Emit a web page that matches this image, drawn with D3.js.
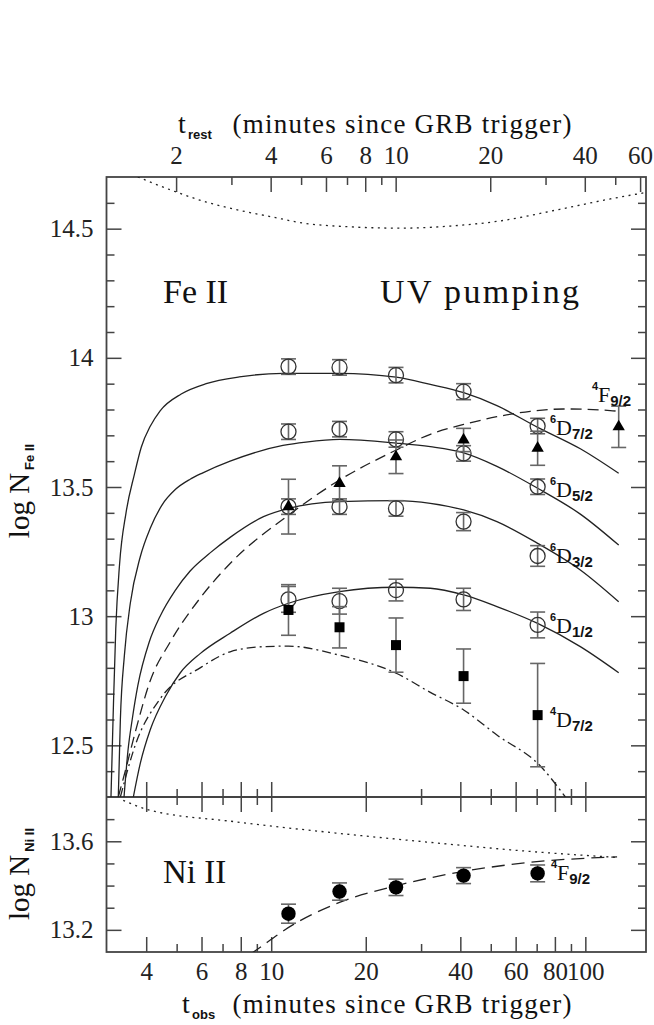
<!DOCTYPE html>
<html><head><meta charset="utf-8">
<script src="https://cdn.jsdelivr.net/npm/d3@7/dist/d3.min.js"></script>
<style>
body{margin:0;background:#fff}
svg{display:block}
.serif{font-family:"Liberation Serif","Times New Roman",serif}
.sans{font-family:"Liberation Sans",Arial,sans-serif;font-weight:bold}
</style></head>
<body><svg id="c" width="654" height="1025"></svg>
<script>
// ---------------- data ----------------
const onePlusZ = 2.49;
const tObs = [11.35, 16.5, 24.96, 40.96, 70.49];
const tObs4F = [11.35, 16.5, 24.96, 40.96, 70.49, 127.7];

const fe6D72 = [13.966, 13.963, 13.933, 13.869, 13.736];
const fe6D72Err = [0.03, 0.03, 0.03, 0.031, 0.03];
const fe6D52 = [13.714, 13.724, 13.684, 13.630, 13.501];
const fe6D52Err = [0.03, 0.03, 0.03, 0.03, 0.03];
const fe6D32 = [13.424, 13.424, 13.417, 13.366, 13.233];
const fe6D32Err = [0.03, 0.03, 0.03, 0.035, 0.04];
const fe6D12 = [13.065, 13.058, 13.101, 13.065, 12.966];
const fe6D12Err = [0.05, 0.05, 0.042, 0.043, 0.05];
const fe4F92 = [13.424, 13.514, 13.617, 13.682, 13.650, 13.733];
const fe4F92Err = [0.106, 0.068, 0.065, 0.045, 0.066, 0.08];
const fe4D72 = [13.024, 12.957, 12.888, 12.768, 12.617];
const fe4D72Err = [0.098, 0.08, 0.105, 0.105, 0.2];
const ni4F92 = [13.273, 13.373, 13.392, 13.445, 13.455];
const ni4F92Err = [0.043, 0.039, 0.037, 0.036, 0.038];

// model curves [t_obs, log N]
const model6D72 = [[3.09,12.3],[3.14,12.62],[3.20,12.95],[3.29,13.2],[3.45,13.4],[3.67,13.55],[3.86,13.655],[4.12,13.735],[4.43,13.795],[5.17,13.86],[6.21,13.90],[7.91,13.926],[10.9,13.94],[16.5,13.94],[25.0,13.925],[32.1,13.897],[41.0,13.865],[52.3,13.815],[70.5,13.731],[96.4,13.648],[127.7,13.553]];
const model6D52 = [[3.26,12.3],[3.31,12.6],[3.41,12.85],[3.56,13.05],[3.83,13.23],[4.12,13.34],[4.49,13.43],[4.95,13.49],[5.52,13.53],[6.06,13.555],[7.40,13.60],[10.9,13.661],[12.9,13.674],[16.5,13.684],[25.0,13.670],[32.1,13.656],[41.0,13.632],[52.3,13.580],[70.5,13.495],[96.4,13.395],[127.7,13.275]];
const model6D32 = [[3.40,12.3],[3.50,12.48],[3.61,12.6],[3.76,12.73],[4.09,12.9],[4.43,13.0],[4.95,13.1],[5.52,13.175],[6.39,13.245],[7.40,13.305],[9.45,13.385],[11.35,13.417],[16.5,13.443],[25.0,13.447],[32.1,13.437],[41.0,13.411],[52.3,13.366],[70.5,13.282],[96.4,13.179],[127.7,13.056]];
const model6D12 = [[3.64,12.3],[3.83,12.43],[4.12,12.56],[4.61,12.69],[5.13,12.78],[5.94,12.855],[7.40,12.934],[9.45,13.011],[11.35,13.05],[16.5,13.095],[25.0,13.112],[32.1,13.108],[41.0,13.082],[52.3,13.037],[70.5,12.972],[96.4,12.882],[127.7,12.781]];
const modelFe4F92 = [[3.26,12.3],[3.43,12.4],[3.69,12.55],[4.12,12.75],[4.77,12.9],[5.94,13.07],[7.40,13.204],[11.35,13.391],[16.5,13.527],[25.0,13.643],[32.1,13.704],[41.0,13.742],[52.3,13.772],[66.8,13.793],[85.3,13.802],[120,13.796],[127.7,13.793]];
const modelFe4D72 = [[3.31,12.3],[3.69,12.5],[4.43,12.68],[5.94,12.80],[7.40,12.862],[9.45,12.882],[11.35,12.884],[16.5,12.849],[25.0,12.779],[32.1,12.705],[41.0,12.637],[52.3,12.54],[71.9,12.42],[86.4,12.30]];
const modelFeGround = [[3.76,14.70],[4.98,14.642],[6.21,14.603],[7.93,14.571],[10.1,14.545],[12.6,14.522],[17.9,14.507],[25.8,14.502],[37.1,14.51],[53.6,14.53],[83.0,14.575],[120,14.615],[156,14.64]];
const modelNiGround = [[3.38,13.785],[4.00,13.745],[7.59,13.689],[15.4,13.64],[32.1,13.595],[66.8,13.554],[126.2,13.527]];
const modelNi4F92 = [[7.6,13.04],[8.78,13.10],[11.64,13.22],[16.58,13.325],[25.14,13.40],[40.96,13.464],[66.8,13.505],[126.2,13.530]];

// ticks
const obsMajor = [4,6,8,10,20,40,60,80,100];
const obsMinor = [5,7,9,30,50,70,90];
const restMajor = [2,4,6,8,10,20,40,60];
const restMinor = [3,5,7,9,30,50];
const feMajor = [12.5,13,13.5,14,14.5];
const feMinor = [12.4,12.6,12.7,12.8,12.9,13.1,13.2,13.3,13.4,13.6,13.7,13.8,13.9,14.1,14.2,14.3,14.4,14.6];
const niMajor = [13.2,13.6];
const niMinor = [13.3,13.4,13.5,13.7];

// ---------------- layout ----------------
const L = 106.5, R = 646, T = 177, M = 797, B = 952;
const svg = d3.select("#c");
const x = d3.scaleLog().domain([2.99, 156]).range([L, R]);
const xr = d3.scaleLog().domain([2.99/onePlusZ, 156/onePlusZ]).range([L, R]);
const yT = d3.scaleLinear().domain([12.3, 14.7]).range([M, T]);
const yB = d3.scaleLinear().domain([13.1, 13.8]).range([B, M]);

const AX = "#444", TICKW = 1.5;
const defs = svg.append("defs");
defs.append("clipPath").attr("id","cpT").append("rect").attr("x",L).attr("y",T).attr("width",R-L).attr("height",M-T);
defs.append("clipPath").attr("id","cpB").append("rect").attr("x",L).attr("y",M).attr("width",R-L).attr("height",B-M);

function styleAxis(g, labels){
  g.select(".domain").remove();
  g.selectAll(".tick line").attr("stroke", AX).attr("stroke-width", TICKW);
  if(!labels){ g.selectAll(".tick text").remove(); return; }
  g.selectAll(".tick text").attr("font-size", 25).attr("fill","#222")
    .style("font-family",'"Liberation Serif",serif');
}
function addAxis(axis, tx, ty, labels){
  const g = svg.append("g").attr("transform", `translate(${tx},${ty})`).call(axis);
  styleAxis(g, labels);
  return g;
}
const fmt = d => String(d);
// top panel
addAxis(d3.axisLeft(yT).tickValues(feMajor).tickSize(-15).tickSizeOuter(0).tickPadding(13).tickFormat(fmt), L, 0, true);
addAxis(d3.axisLeft(yT).tickValues(feMinor).tickSize(-8).tickSizeOuter(0), L, 0, false);
addAxis(d3.axisRight(yT).tickValues(feMajor).tickSize(-15).tickSizeOuter(0), R, 0, false);
addAxis(d3.axisRight(yT).tickValues(feMinor).tickSize(-8).tickSizeOuter(0), R, 0, false);
addAxis(d3.axisTop(xr).tickValues(restMajor).tickSize(-15).tickSizeOuter(0).tickPadding(13).tickFormat(fmt), 0, T, true);
addAxis(d3.axisTop(xr).tickValues(restMinor).tickSize(-8).tickSizeOuter(0), 0, T, false);
addAxis(d3.axisBottom(x).tickValues(obsMajor).tickSize(-15).tickSizeOuter(0), 0, M, false);
addAxis(d3.axisBottom(x).tickValues(obsMinor).tickSize(-8).tickSizeOuter(0), 0, M, false);
// bottom panel
addAxis(d3.axisLeft(yB).tickValues(niMajor).tickSize(-15).tickSizeOuter(0).tickPadding(13).tickFormat(fmt), L, 0, true);
addAxis(d3.axisLeft(yB).tickValues(niMinor).tickSize(-8).tickSizeOuter(0), L, 0, false);
addAxis(d3.axisRight(yB).tickValues(niMajor).tickSize(-15).tickSizeOuter(0), R, 0, false);
addAxis(d3.axisRight(yB).tickValues(niMinor).tickSize(-8).tickSizeOuter(0), R, 0, false);
addAxis(d3.axisTop(x).tickValues(obsMajor).tickSize(-15).tickSizeOuter(0), 0, M, false);
addAxis(d3.axisTop(x).tickValues(obsMinor).tickSize(-8).tickSizeOuter(0), 0, M, false);
addAxis(d3.axisBottom(x).tickValues(obsMajor).tickSize(-15).tickSizeOuter(0).tickPadding(10).tickFormat(fmt), 0, B, true);
addAxis(d3.axisBottom(x).tickValues(obsMinor).tickSize(-8).tickSizeOuter(0), 0, B, false);

// frames
svg.append("rect").attr("x",L).attr("y",T).attr("width",R-L).attr("height",B-T)
  .attr("fill","none").attr("stroke",AX).attr("stroke-width",1.8);
svg.append("line").attr("x1",L).attr("x2",R).attr("y1",M).attr("y2",M).attr("stroke",AX).attr("stroke-width",1.8);

// ---------------- curves ----------------
function curve(data, yS, clip, dash){
  const line = d3.line().x(d=>x(d[0])).y(d=>yS(d[1])).curve(d3.curveMonotoneX);
  svg.append("path").attr("d", line(data)).attr("clip-path",`url(#${clip})`)
    .attr("fill","none").attr("stroke","#222").attr("stroke-width",1.3)
    .attr("stroke-dasharray", dash || null);
}
curve(model6D72, yT, "cpT");
curve(model6D52, yT, "cpT");
curve(model6D32, yT, "cpT");
curve(model6D12, yT, "cpT");
curve(modelFe4F92, yT, "cpT", "11,6");
curve(modelFe4D72, yT, "cpT", "9,4,2,4");
curve(modelFeGround, yT, "cpT", "2,4.5");
curve(modelNiGround, yB, "cpB", "2,4.5");
curve(modelNi4F92, yB, "cpB", "13,7");

// ---------------- points ----------------
function errs(ts, vals, es, yS){
  const g = svg.append("g").attr("stroke","#666").attr("stroke-width",1.6);
  ts.forEach((t,i)=>{
    const cx = x(t), y1 = yS(vals[i]-es[i]), y2 = yS(vals[i]+es[i]);
    g.append("line").attr("x1",cx).attr("x2",cx).attr("y1",y1).attr("y2",y2);
    g.append("line").attr("x1",cx-7.5).attr("x2",cx+7.5).attr("y1",y1).attr("y2",y1);
    g.append("line").attr("x1",cx-7.5).attr("x2",cx+7.5).attr("y1",y2).attr("y2",y2);
  });
}
function openCircles(ts, vals, yS){
  svg.append("g").selectAll("circle").data(vals).join("circle")
    .attr("cx",(d,i)=>x(ts[i])).attr("cy",d=>yS(d)).attr("r",7.5)
    .attr("fill","none").attr("stroke","#333").attr("stroke-width",1.3);
}
function symbols(ts, vals, yS, type, size){
  svg.append("g").selectAll("path").data(vals).join("path")
    .attr("transform",(d,i)=>`translate(${x(ts[i])},${yS(d)})`)
    .attr("d", d3.symbol().type(type).size(size)()).attr("fill","#000");
}
[[fe6D72,fe6D72Err],[fe6D52,fe6D52Err],[fe6D32,fe6D32Err],[fe6D12,fe6D12Err]].forEach(([v,e])=>{
  errs(tObs, v, e, yT); openCircles(tObs, v, yT);
});
errs(tObs4F, fe4F92, fe4F92Err, yT); symbols(tObs4F, fe4F92, yT, d3.symbolTriangle, 66);
errs(tObs, fe4D72, fe4D72Err, yT); symbols(tObs, fe4D72, yT, d3.symbolSquare, 100);
errs(tObs, ni4F92, ni4F92Err, yB);
svg.append("g").selectAll("circle").data(ni4F92).join("circle")
  .attr("cx",(d,i)=>x(tObs[i])).attr("cy",d=>yB(d)).attr("r",7.2).attr("fill","#000");

// ---------------- texts ----------------
function levelLabel(px, base, sup, main, sub){
  const g = svg.append("g").attr("fill","#111");
  g.append("text").attr("class","sans").attr("x",px).attr("y",base-12).attr("font-size",11).text(sup);
  const m = g.append("text").attr("class","serif").attr("x",px+6).attr("y",base).attr("font-size",22).text(main);
  const w = m.node().getComputedTextLength();
  g.append("text").attr("class","sans").attr("x",px+6+w).attr("y",base+4).attr("font-size",15).text(sub);
}
levelLabel(592, 402, "4", "F", "9/2");
levelLabel(550, 435, "6", "D", "7/2");
levelLabel(550, 497, "6", "D", "5/2");
levelLabel(550, 563, "6", "D", "3/2");
levelLabel(550, 633, "6", "D", "1/2");
levelLabel(550, 727, "4", "D", "7/2");
levelLabel(551, 880, "4", "F", "9/2");

svg.append("text").attr("class","serif").attr("x",163).attr("y",303).attr("font-size",34).attr("fill","#111").text("Fe II");
svg.append("text").attr("class","serif").attr("x",380).attr("y",303).attr("font-size",34).attr("fill","#111")
  .attr("textLength",199).attr("lengthAdjust","spacing").text("UV pumping");
svg.append("text").attr("class","serif").attr("x",163).attr("y",883).attr("font-size",33).attr("fill","#111").text("Ni II");

function xTitle(tx, base, sub, restX){
  const g = svg.append("g").attr("fill","#111");
  g.append("text").attr("class","serif").attr("x",tx).attr("y",base).attr("font-size",28).text("t");
  g.append("text").attr("class","sans").attr("x",tx+10).attr("y",base+6).attr("font-size",13).text(sub);
  g.append("text").attr("class","serif").attr("x",restX).attr("y",base).attr("font-size",27)
    .attr("textLength",339).attr("lengthAdjust","spacing").text("(minutes since GRB trigger)");
}
xTitle(178, 133, "rest", 232.5);
xTitle(182, 1013, "obs", 232.5);

function yTitle(cy, sub){
  const t = svg.append("text").attr("class","serif").attr("font-size",29).attr("fill","#111")
    .attr("text-anchor","middle").attr("transform",`translate(29,${cy}) rotate(-90)`);
  t.append("tspan").text("log N");
  t.append("tspan").attr("class","sans").attr("font-size",13).attr("dy",5).attr("dx",3).text(sub);
}
yTitle(491, "Fe II");
yTitle(874, "Ni II");
</script>
</body></html>
